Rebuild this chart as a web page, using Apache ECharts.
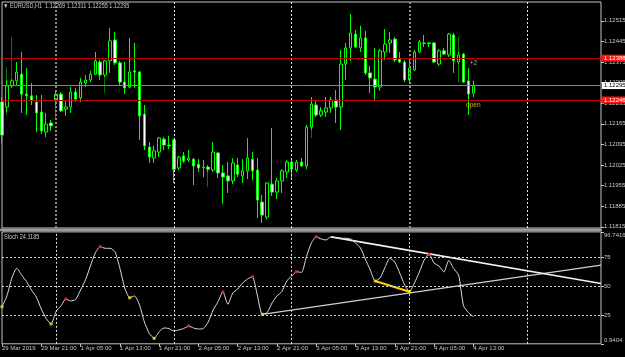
<!DOCTYPE html>
<html><head><meta charset="utf-8">
<script src="https://cdn.jsdelivr.net/npm/echarts@6/dist/echarts.min.js"></script>
<style>html,body{margin:0;padding:0;background:#000;}#c{width:625px;height:357px;}</style>
</head><body><div id="c"></div>
<script>
const symbolName = 'EURUSD,H1';
// bar data, H1 bars starting 29 Mar 2019 13:00
const opens = [1.12239,1.12222,1.12294,1.12311,1.12334,1.12266,1.12260,1.12239,1.12205,1.12137,
1.12168,1.12243,1.12266,1.12215,1.12222,1.12273,1.12253,1.12304,1.12314,1.12334,
1.12375,1.12331,1.12379,1.12450,1.12372,1.12307,1.12290,1.12345,1.12341,1.12198,
1.12086,1.12049,1.12069,1.12113,1.12093,1.12110,1.12015,1.12056,1.12042,1.12045,
1.12028,1.12018,1.12018,1.12008,1.12066,1.11998,1.11988,1.11971,1.12025,1.11988,
1.12005,1.12045,1.12008,1.11899,1.11848,1.11960,1.11933,1.11971,1.12001,1.12035,
1.12008,1.12035,1.12022,1.12154,1.12229,1.12195,1.12205,1.12219,1.12246,1.12222,
1.12368,1.12423,1.12470,1.12423,1.12457,1.12338,1.12317,1.12290,1.12409,1.12440,
1.12453,1.12385,1.12375,1.12314,1.12348,1.12409,1.12440,1.12440,1.12440,1.12368,
1.12413,1.12399,1.12467,1.12375,1.12402,1.12311,1.12269];
const closes = [1.12127,1.12294,1.12311,1.12341,1.12266,1.12260,1.12243,1.12202,1.12141,1.12164,
1.12158,1.12266,1.12209,1.12222,1.12273,1.12249,1.12307,1.12314,1.12334,1.12379,
1.12331,1.12379,1.12447,1.12372,1.12307,1.12287,1.12341,1.12341,1.12192,1.12090,
1.12052,1.12073,1.12117,1.12093,1.12090,1.12011,1.12052,1.12039,1.12049,1.12022,
1.12015,1.12017,1.12011,1.12069,1.11998,1.11984,1.11971,1.12032,1.11994,1.12005,
1.12049,1.12005,1.11906,1.11855,1.11964,1.11933,1.11971,1.12005,1.12035,1.12011,
1.12035,1.12022,1.12154,1.12232,1.12195,1.12209,1.12219,1.12246,1.12222,1.12368,
1.12423,1.12474,1.12426,1.12457,1.12338,1.12321,1.12290,1.12413,1.12436,1.12450,
1.12382,1.12375,1.12314,1.12355,1.12409,1.12443,1.12438,1.12438,1.12375,1.12413,
1.12402,1.12470,1.12379,1.12399,1.12307,1.12266,1.12295];
const lows = [1.12100,1.12205,1.12287,1.12297,1.12202,1.12195,1.12229,1.12137,1.12130,1.12120,
1.12141,1.12229,1.12205,1.12192,1.12202,1.12239,1.12239,1.12290,1.12307,1.12331,
1.12314,1.12324,1.12338,1.12365,1.12297,1.12266,1.12287,1.12287,1.12110,1.12076,
1.12032,1.12032,1.12052,1.12076,1.12079,1.11964,1.12008,1.12032,1.12035,1.11957,
1.12001,1.11984,1.12001,1.12001,1.11981,1.11892,1.11930,1.11960,1.11984,1.11964,
1.11977,1.11974,1.11845,1.11828,1.11841,1.11920,1.11909,1.11930,1.11981,1.11974,
1.12001,1.12018,1.12011,1.12144,1.12188,1.12188,1.12188,1.12202,1.12168,1.12144,
1.12314,1.12379,1.12423,1.12409,1.12331,1.12270,1.12246,1.12277,1.12382,1.12406,
1.12375,1.12372,1.12307,1.12307,1.12345,1.12406,1.12426,1.12426,1.12372,1.12362,
1.12399,1.12392,1.12338,1.12368,1.12304,1.12195,1.12255];
const highs = [1.12256,1.12314,1.12317,1.12375,1.12409,1.12355,1.12304,1.12263,1.12263,1.12202,
1.12178,1.12280,1.12273,1.12246,1.12290,1.12287,1.12321,1.12331,1.12345,1.12409,
1.12382,1.12382,1.12491,1.12477,1.12379,1.12375,1.12457,1.12440,1.12345,1.12229,
1.12103,1.12090,1.12120,1.12120,1.12124,1.12113,1.12056,1.12069,1.12076,1.12049,
1.12045,1.12042,1.12025,1.12103,1.12069,1.12025,1.12035,1.12049,1.12049,1.12045,
1.12117,1.12069,1.12049,1.11923,1.11967,1.12151,1.11981,1.12011,1.12042,1.12042,
1.12042,1.12049,1.12161,1.12256,1.12243,1.12222,1.12256,1.12256,1.12280,1.12416,
1.12440,1.12538,1.12484,1.12498,1.12481,1.12362,1.12423,1.12419,1.12487,1.12477,
1.12460,1.12409,1.12382,1.12382,1.12416,1.12450,1.12467,1.12443,1.12443,1.12419,
1.12423,1.12474,1.12474,1.12409,1.12406,1.12355,1.12311];
// faint dark-green wicks behind some bars
const darkIdx = [1, 2, 11, 21, 41, 42, 63, 73, 93];
const darkLow = [1.12195, 1.12304, 1.12178, 1.12270, 1.11984, 1.11950, 1.12117, 1.12409, 1.12307];
const darkHigh = [1.12358, 1.12460, 1.12280, 1.12382, 1.12042, 1.12018, 1.12256, 1.12498, 1.12460];
// stochastic main line
const stoch = [32.7,41.9,57.3,65.6,59.8,54.1,47.0,41.0,30.7,22.6,
17.9,28.6,33.3,39.3,37.6,38.9,47.0,55.6,67.5,78.7,
84.1,82.7,82.7,79.8,65.8,48.7,40.4,41.9,34.2,19.6,
9.8,5.6,11.3,14.5,14.0,11.9,12.8,14.0,16.2,14.5,
13.6,14.0,19.6,29.9,37.0,45.5,34.8,44.4,47.9,53.0,
56.4,58.4,42.7,26.2,27.7,35.9,41.9,45.7,54.7,59.0,
62.7,62.0,75.5,87.2,92.6,90.7,89.8,92.6,91.8,91.3,
91.3,90.7,87.2,83.0,73.5,64.1,54.7,57.3,66.3,74.1,
71.0,61.6,51.3,45.5,53.0,62.4,72.7,77.6,70.1,67.5,
62.4,72.3,65.4,59.8,33.5,27.7,24.1185];
const stochPeakIdx = [13, 20, 38, 45, 51, 60, 64, 87];
const stochTroughIdx = [0, 10, 26, 31, 53, 76, 83];
// trend lines on the oscillator: [barIndex, value]
const trendUpper = [[67, 92.5], [122, 52.5]];
const trendLower = [[53, 26.2], [122, 68.3]];
const trendYellow = [[76, 54.7], [83, 45.5]];
// axes
const slotCount = 123;
const timeLabels = ['29 Mar 2019','29 Mar 21:00','1 Apr 05:00','1 Apr 13:00','1 Apr 21:00','2 Apr 05:00','2 Apr 13:00','2 Apr 21:00','3 Apr 05:00','3 Apr 13:00','3 Apr 21:00','4 Apr 05:00','4 Apr 13:00'];
const timeLabelIdx = [0, 8, 16, 24, 32, 40, 48, 56, 64, 72, 80, 88, 96];
const daySepIdx = [11, 35, 59, 83, 107];
const priceTicks = [1.11815,1.11885,1.11955,1.12025,1.12095,1.12165,1.12235,1.12305,1.12375,1.12445,1.12515];
const stochTicks = [0.9404, 25, 50, 75, 96.7416];
const stochLevels = [25, 50, 75];
const priceLines = [1.12388, 1.12295, 1.12246];
const noteText = ['+2', 'open'];
const noteIdx = [96, 96];
const notePrice = [1.12372, 1.12229];

const F = '"Liberation Sans",Arial,sans-serif';
const FS = 6;
const TXT = '#c8c8c8';
const categories = Array.from({length: slotCount}, (_, i) => String(i));
const candleData = opens.map((o, i) => [o, closes[i], lows[i], highs[i]]);
const darkData = opens.map(() => ['-', '-', '-', '-']);
darkIdx.forEach((k, j) => { const m = (darkLow[j] + darkHigh[j]) / 2; darkData[k] = [m, m, darkLow[j], darkHigh[j]]; });
const last = opens.length - 1;
const f5 = v => v.toFixed(5);

const chart = echarts.init(document.getElementById('c'), null, {renderer: 'canvas'});
chart.setOption({
  backgroundColor: '#000',
  animation: false,
  grid: [
    {left: 2, top: 2, width: 599, height: 226, show: true, borderColor: '#c4c4c4', borderWidth: 1, backgroundColor: '#000', outerBoundsMode: 'none', containLabel: false},
    {left: 2, top: 231.9, width: 599, height: 111.9, show: true, borderColor: '#c4c4c4', borderWidth: 1, backgroundColor: '#000', outerBoundsMode: 'none', containLabel: false}
  ],
  graphic: [
    {type: 'rect', shape: {x: 0, y: 228.6, width: 602, height: 2.6}, style: {fill: '#9a9a9a'}, z: 100},
    {type: 'text', x: 3, y: 3, scaleX: 0.84, z: 100,
     style: {text: '▼ ' + symbolName + '  ' + [opens[last], highs[last], lows[last], closes[last]].map(f5).join(' '),
       fill: TXT, font: '6.6px "Liberation Sans"'}},
    {type: 'text', x: 4, y: 234, scaleX: 0.84, z: 100,
     style: {text: 'Stoch ' + stoch[last], fill: TXT, font: '6.6px "Liberation Sans"'}}
  ],
  xAxis: [
    {gridIndex: 0, type: 'category', data: categories, boundaryGap: false,
     axisLine: {show: false}, axisTick: {show: false}, axisLabel: {show: false}, splitLine: {show: false}},
    {gridIndex: 1, type: 'category', data: categories, boundaryGap: false,
     axisLine: {show: false}, splitLine: {show: false},
     axisTick: {show: true, length: 3, interval: (i) => timeLabelIdx.includes(i), lineStyle: {color: TXT}},
     axisLabel: {show: true, showMinLabel: true, interval: (i) => timeLabelIdx.includes(i), align: 'left', margin: 2,
       color: TXT, fontSize: FS, fontFamily: F,
       formatter: (v) => { const k = timeLabelIdx.indexOf(Number(v)); return k >= 0 ? timeLabels[k] : ''; }}}
  ],
  yAxis: [
    {gridIndex: 0, type: 'value', position: 'right', min: 1.11811, max: 1.12579,
     axisLine: {show: false}, splitLine: {show: false},
     axisTick: {show: true, length: 3, customValues: priceTicks, lineStyle: {color: TXT}},
     axisLabel: {show: true, customValues: priceTicks, margin: 3, color: TXT, fontSize: FS, fontFamily: F, formatter: v => f5(v)}},
    {gridIndex: 1, type: 'value', position: 'right', min: 0.9404, max: 96.7416,
     axisLine: {show: false}, splitLine: {show: false},
     axisTick: {show: true, length: 3, customValues: stochTicks, lineStyle: {color: TXT}},
     axisLabel: {show: true, customValues: stochTicks, margin: 3, color: TXT, fontSize: FS, fontFamily: F,
       formatter: v => v > 96 ? '{a|' + v + '}' : (v < 1 ? '{b|' + v + '}' : String(v)),
       rich: {a: {padding: [6, 0, 0, 0], color: TXT, fontSize: FS, fontFamily: F},
              b: {padding: [0, 0, 7, 0], color: TXT, fontSize: FS, fontFamily: F}}}}
  ],
  series: [
    {type: 'candlestick', name: 'shadow', xAxisIndex: 0, yAxisIndex: 0, z: 2, barWidth: 1, data: darkData,
     itemStyle: {color: '#007a00', color0: '#007a00', borderColor: '#007a00', borderColor0: '#007a00', borderColorDoji: '#007a00', borderWidth: 1},
     markLine: {silent: true, symbol: ['none', 'none'], label: {show: false}, animation: false,
       data: daySepIdx.map(k => ({xAxis: k, lineStyle: (k === 11 || k === 83)
         ? {color: '#8c8c8c', width: 2, type: [2, 2]} : {color: '#e6e6e6', width: 1, type: [2, 2]}}))}},
    {type: 'candlestick', name: symbolName, xAxisIndex: 0, yAxisIndex: 0, z: 3, barWidth: 3, data: candleData,
     itemStyle: {color: '#000', color0: '#fff', borderColor: '#00ff00', borderColor0: '#00ff00', borderColorDoji: '#00ff00', borderWidth: 1}},
    {type: 'scatter', xAxisIndex: 0, yAxisIndex: 0, z: 5, symbolSize: 0, silent: true,
     data: noteText.map((t, j) => ({value: [noteIdx[j], notePrice[j]],
       label: {show: true, position: 'inside', formatter: t, fontSize: FS + 0.5, fontFamily: F,
         color: j === 0 ? '#d0d0d0' : '#e8e000'}})),
     markLine: {silent: true, symbol: ['none', 'none'], animation: false, precision: 5,
       data: priceLines.map((p, j) => ({yAxis: p,
         lineStyle: j === 1 ? {color: '#778899', width: 1, type: 'solid'} : {color: '#c00000', width: 1, type: 'solid'},
         label: {show: true, position: 'end', distance: 1, formatter: f5(p), fontSize: FS, fontFamily: F,
           padding: [1, 2, 0, 2], color: j === 1 ? '#000' : '#fff', backgroundColor: j === 1 ? '#fff' : '#ff1010'}}))}},
    {type: 'line', xAxisIndex: 1, yAxisIndex: 1, z: 1, data: trendYellow, symbol: 'none', silent: true,
     lineStyle: {color: '#ffd700', width: 2},
     markLine: {silent: true, symbol: ['none', 'none'], label: {show: false}, animation: false, precision: 5,
       data: stochLevels.map(v => ({yAxis: v, lineStyle: {color: '#cfcfcf', width: 1, type: [2, 2]}}))
         .concat(daySepIdx.map(k => ({xAxis: k, lineStyle: {color: '#e6e6e6', width: 1, type: [2, 2]}})))}},
    {type: 'line', xAxisIndex: 1, yAxisIndex: 1, z: 2, data: trendLower, symbol: 'none', silent: true,
     lineStyle: {color: '#d0d0d0', width: 1.3}},
    {type: 'line', xAxisIndex: 1, yAxisIndex: 1, z: 2, data: trendUpper, symbol: 'none', silent: true,
     lineStyle: {color: '#f4f4f4', width: 1.6}},
    {type: 'line', xAxisIndex: 1, yAxisIndex: 1, z: 3, data: stoch, symbol: 'none', smooth: 0.2, silent: true,
     lineStyle: {color: '#dcdcdc', width: 1}},
    {type: 'scatter', xAxisIndex: 1, yAxisIndex: 1, z: 4, symbol: 'rect', symbolSize: 3, silent: true,
     itemStyle: {color: '#ff2020'}, data: stochPeakIdx.map(i => [i, stoch[i]])},
    {type: 'scatter', xAxisIndex: 1, yAxisIndex: 1, z: 4, symbol: 'rect', symbolSize: 3, silent: true,
     itemStyle: {color: '#ffe000'}, data: stochTroughIdx.map(i => [i, stoch[i]])}
  ]
});
</script></body></html>
